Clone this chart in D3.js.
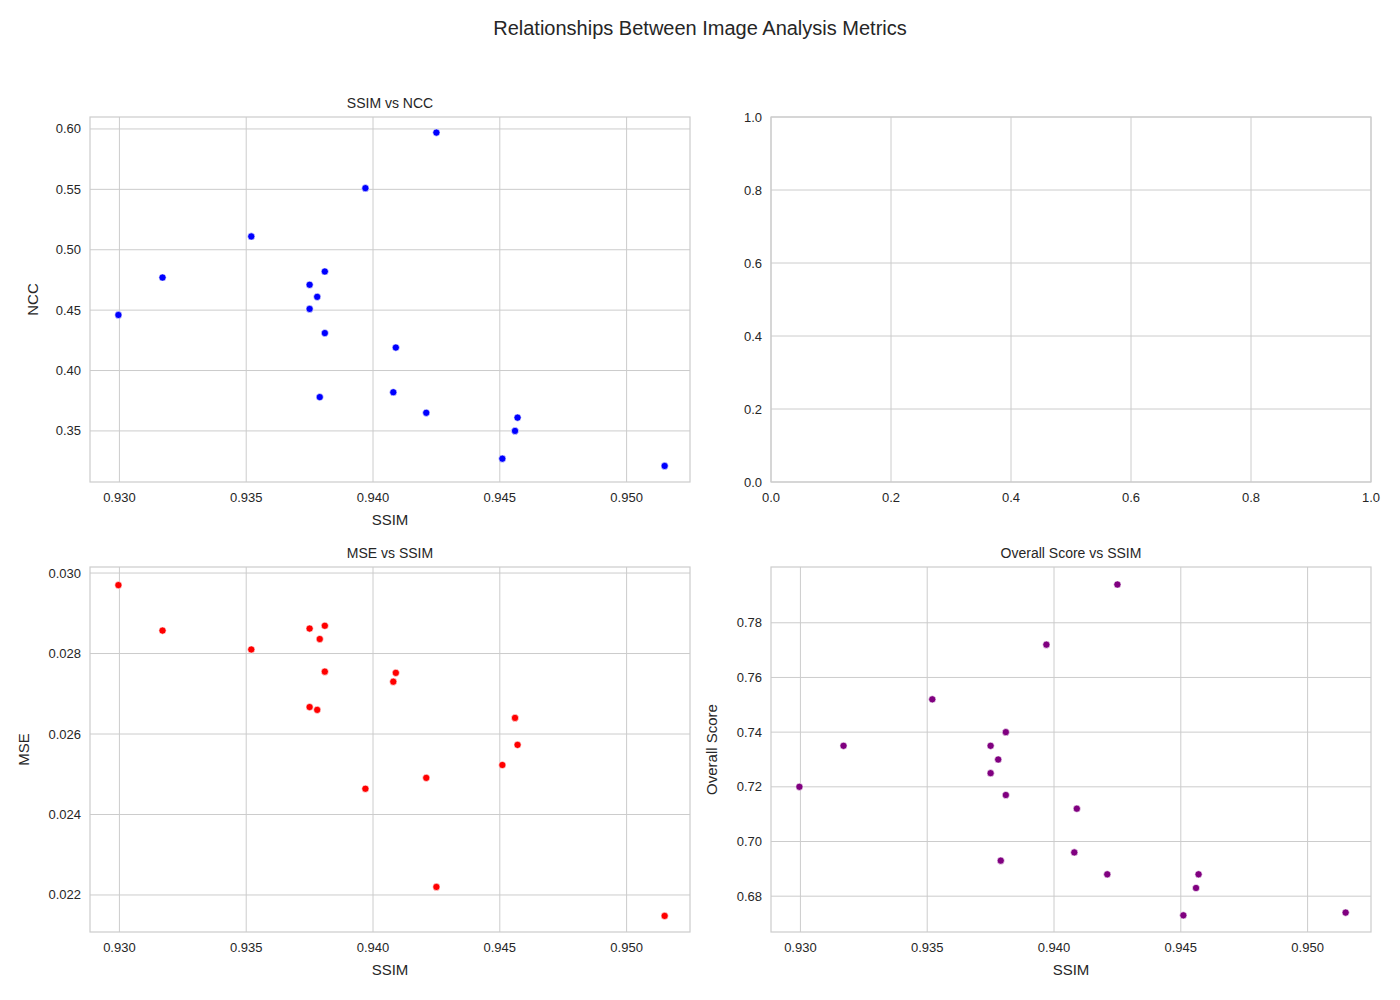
<!DOCTYPE html>
<html><head><meta charset="utf-8">
<script src="https://cdn.jsdelivr.net/npm/d3@7"></script>
<style>body{margin:0;background:#fff}text{font-family:Arial,"Liberation Sans",sans-serif;fill:#262626}</style>
</head><body><svg id="c" width="1400" height="1000"></svg>
<script>
const ssim = [0.92996,0.9317,0.9352,0.9375,0.9375,0.9378,0.9381,0.9381,0.9379,0.9397,0.9408,0.9409,0.9421,0.9425,0.9451,0.9456,0.9457,0.9515];
const ncc  = [0.446,0.477,0.511,0.471,0.451,0.461,0.482,0.431,0.378,0.551,0.382,0.419,0.365,0.597,0.327,0.350,0.361,0.321];
const mse  = [0.02970,0.02857,0.02810,0.02862,0.02667,0.02660,0.02869,0.02755,0.02836,0.02464,0.02730,0.02752,0.02491,0.02220,0.02523,0.02640,0.02573,0.02148];
const overall = [0.720,0.735,0.752,0.735,0.725,0.730,0.740,0.717,0.693,0.772,0.696,0.712,0.688,0.794,0.673,0.683,0.688,0.674];

const svg = d3.select("#c");
svg.append("text").attr("x",700).attr("y",35).attr("text-anchor","middle").attr("font-size",20).text("Relationships Between Image Analysis Metrics");

function panel(x0,y0,opt){
  const w=600,h=365;
  const g=svg.append("g").attr("transform",`translate(${x0},${y0})`);
  const x=d3.scaleLinear().domain(opt.xd).range([0,w]);
  const y=d3.scaleLinear().domain(opt.yd).range([h,0]);
  const xt=opt.xticks, yt=opt.yticks;
  g.selectAll(".gx").data(xt).join("line").attr("x1",x).attr("x2",x).attr("y1",0).attr("y2",h).attr("stroke","#cccccc");
  g.selectAll(".gy").data(yt).join("line").attr("y1",y).attr("y2",y).attr("x1",0).attr("x2",w).attr("stroke","#cccccc");
  g.append("rect").attr("width",w).attr("height",h).attr("fill","none").attr("stroke","#cccccc").attr("stroke-width",1.2);
  g.selectAll(".tx").data(xt).join("text").attr("x",x).attr("y",h+20).attr("text-anchor","middle").attr("font-size",13).text(opt.xf);
  g.selectAll(".ty").data(yt).join("text").attr("x",-9).attr("y",d=>y(d)+4.5).attr("text-anchor","end").attr("font-size",13).text(opt.yf);
  if(opt.title) g.append("text").attr("x",w/2).attr("y",-9).attr("text-anchor","middle").attr("font-size",14).text(opt.title);
  if(opt.xl) g.append("text").attr("x",w/2).attr("y",h+43).attr("text-anchor","middle").attr("font-size",15).text(opt.xl);
  if(opt.yl) g.append("text").attr("transform",`translate(${opt.ylx},${h/2}) rotate(-90)`).attr("text-anchor","middle").attr("font-size",15).text(opt.yl);
  if(opt.ys) g.selectAll("circle").data(ssim).join("circle").attr("cx",d=>x(d)).attr("cy",(d,i)=>y(opt.ys[i])).attr("r",3.6).attr("fill",opt.color).attr("stroke","#fff").attr("stroke-width",0.6);
}
const xd=[0.92884,0.9525], xticks=[0.930,0.935,0.940,0.945,0.950], f3=d3.format(".3f");
panel(90,117,{xd,xticks,xf:f3,yd:[0.3077,0.6099],yticks:[0.35,0.40,0.45,0.50,0.55,0.60],yf:d3.format(".2f"),title:"SSIM vs NCC",xl:"SSIM",yl:"NCC",ylx:-52,ys:ncc,color:"blue"});
panel(771,117,{xd:[0,1],xticks:[0,0.2,0.4,0.6,0.8,1.0],xf:d3.format(".1f"),yd:[0,1],yticks:[0,0.2,0.4,0.6,0.8,1.0],yf:d3.format(".1f")});
panel(90,567,{xd,xticks,xf:f3,yd:[0.02108,0.03015],yticks:[0.022,0.024,0.026,0.028,0.030],yf:f3,title:"MSE vs SSIM",xl:"SSIM",yl:"MSE",ylx:-61,ys:mse,color:"red"});
panel(771,567,{xd,xticks,xf:f3,yd:[0.6669,0.8004],yticks:[0.68,0.70,0.72,0.74,0.76,0.78],yf:d3.format(".2f"),title:"Overall Score vs SSIM",xl:"SSIM",yl:"Overall Score",ylx:-54,ys:overall,color:"purple"});
</script></body></html>
